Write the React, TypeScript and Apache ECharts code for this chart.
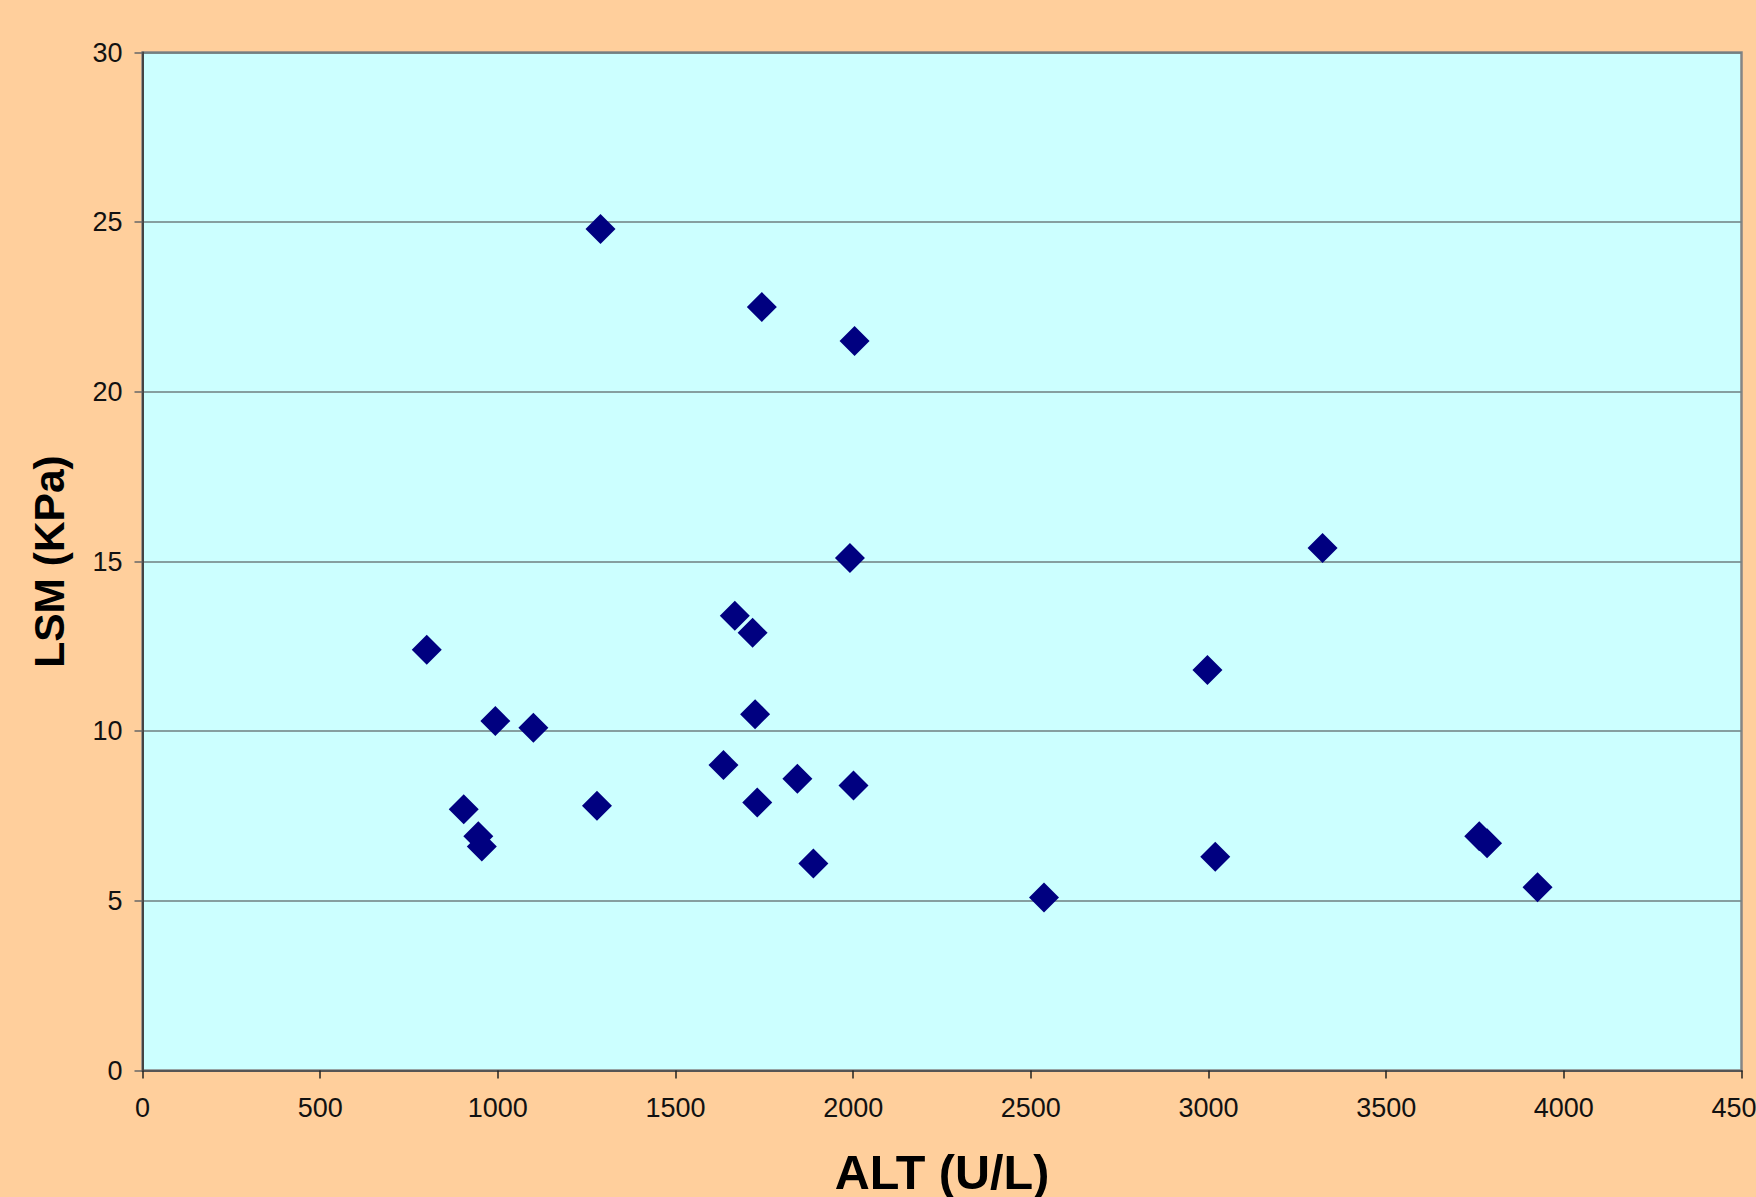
import React, { useEffect, useRef } from "react";
import * as echarts from "echarts";

const altValues = [800, 904, 945, 955, 993, 1100, 1279, 1289, 1635, 1667, 1717, 1724, 1730, 1743, 1843, 1888, 1991, 2001, 2004, 2537, 2997, 3019, 3321, 3762, 3784, 3926];
const lsmValues = [12.4, 7.7, 6.9, 6.6, 10.3, 10.1, 7.8, 24.8, 9.0, 13.4, 12.9, 10.5, 7.9, 22.5, 8.6, 6.1, 15.1, 8.4, 21.5, 5.1, 11.8, 6.3, 15.4, 6.9, 6.7, 5.4];
const xTitle = "ALT (U/L)";
const yTitle = "LSM (KPa)";

export default function App() {
  const ref = useRef<HTMLDivElement>(null);
  useEffect(() => {
    if (!ref.current) return;
    const chart = echarts.init(ref.current, null, { renderer: "svg" });
    const points = altValues.map((x, i) => [x, lsmValues[i]]);
    const font = "Liberation Sans, Arial, Helvetica, sans-serif";
    chart.setOption({
      animation: false,
      backgroundColor: "#FFCF9C",
      grid: {
        left: 142.5,
        top: 52.5,
        width: 1599,
        height: 1018,
        show: true,
        backgroundColor: "#CCFFFF",
        borderColor: "#858585",
        borderWidth: 2.5,
        containLabel: false,
        outerBoundsMode: "none",
      },
      xAxis: {
        type: "value",
        min: 0,
        max: 4500,
        interval: 500,
        name: xTitle,
        nameLocation: "middle",
        nameGap: 77,
        nameTextStyle: { fontFamily: font, fontWeight: "bold", fontSize: 48.5, color: "#000" },
        axisLine: { show: true, lineStyle: { color: "#555", width: 2 } },
        axisTick: { show: true, length: 8, lineStyle: { color: "#222", width: 1.5 } },
        axisLabel: { fontFamily: font, fontSize: 27, color: "#111", margin: 24, formatter: (v: number) => String(v) },
        splitLine: { show: false },
      },
      yAxis: {
        type: "value",
        min: 0,
        max: 30,
        interval: 5,
        name: yTitle,
        nameLocation: "middle",
        nameGap: 72,
        nameRotate: 90,
        nameTextStyle: { fontFamily: font, fontWeight: "bold", fontSize: 42.5, color: "#000" },
        axisLine: { show: true, lineStyle: { color: "#444", width: 2 } },
        axisTick: { show: true, length: 8, lineStyle: { color: "#666", width: 1.5 } },
        axisLabel: { fontFamily: font, fontSize: 27, color: "#111", margin: 20, formatter: (v: number) => String(v) },
        splitLine: { show: true, lineStyle: { color: "#6f7f80", width: 1.5 } },
      },
      series: [
        {
          type: "scatter",
          data: points,
          symbol: "diamond",
          symbolSize: [30, 30],
          itemStyle: { color: "#000080", opacity: 1 },
        },
      ],
    });
    return () => chart.dispose();
  }, []);
  return (
    <div
      ref={ref}
      style={{ position: "absolute", left: 0, top: 0, width: 1756, height: 1197 }}
    />
  );
}
